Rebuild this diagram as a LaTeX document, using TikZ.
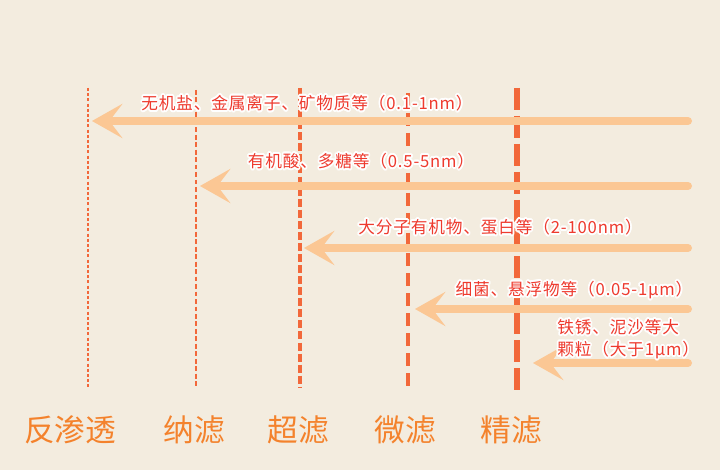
\documentclass[tikz,border=0pt]{standalone}
\usepackage{fontspec}
\usepackage{contour}
\setmainfont{Noto Sans CJK SC}
\newfontfamily\labelfont[LetterSpace=5]{Noto Sans CJK SC}
\usetikzlibrary{arrows.meta, positioning, calc}
\definecolor{paper}{HTML}{F3ECDF}
\definecolor{sizearrow}{HTML}{FBC794}
\definecolor{membrane}{HTML}{F2683A}
\definecolor{sizetext}{HTML}{EE3A2E}
\definecolor{nametext}{HTML}{F4822C}
\contourlength{1.3pt}

\begin{document}
\begin{tikzpicture}
  [x=0.75pt, y=-0.75pt,
  sizeflow/.style={draw=sizearrow, line width=6pt, line cap=round,
    -{Stealth[length=23pt, width=26pt, inset=10pt, line width=0pt]}},
  sizelabel/.style={text=sizetext, inner sep=0pt,
    font=\labelfont\fontsize{12.5}{16.5}\selectfont},
  filtername/.style={text=nametext, inner sep=0pt, font=\fontsize{23}{28}\selectfont},
  roline/.style={draw=membrane, line width=1.1pt, dash pattern=on 2.3pt off 1.6pt},
  nfline/.style={draw=membrane, line width=1.5pt, dash pattern=on 3.6pt off 2pt},
  ufline/.style={draw=membrane, line width=2.3pt, dash pattern=on 6pt off 2.3pt},
  mfline/.style={draw=membrane, line width=3pt, dash pattern=on 9.8pt off 5.2pt},
  pfline/.style={draw=membrane, line width=4.5pt, dash pattern=on 16.5pt off 4.5pt}]

  % paper
  \fill[paper] (0,0) rectangle (720,470);
  \useasboundingbox (0,0) rectangle (720,470);

  % membrane limits
  \coordinate (ro-top) at (88,88);   \coordinate (ro-bot) at (88,388);
  \coordinate (nf-top) at (196,90);  \coordinate (nf-bot) at (196,388);
  \coordinate (uf-top) at (300,88);  \coordinate (uf-bot) at (300,388);
  \coordinate (mf-top) at (408,93);  \coordinate (mf-bot) at (408,392);
  \coordinate (pf-top) at (517,88);  \coordinate (pf-bot) at (517,392);
  \draw[roline] (ro-top) -- (ro-bot);
  \draw[nfline] (nf-top) -- (nf-bot);
  \draw[ufline] (uf-top) -- (uf-bot);
  \draw[mfline] (mf-top) -- (mf-bot);
  \draw[pfline] (pf-top) -- (pf-bot);

  % particle sizes
  \coordinate (ion-in)  at (688,121); \coordinate (ion-out)  at (92,121);
  \coordinate (acid-in) at (688,186); \coordinate (acid-out) at (200,186);
  \coordinate (prot-in) at (688,248); \coordinate (prot-out) at (304,248);
  \coordinate (bact-in) at (688,309); \coordinate (bact-out) at (415,309);
  \coordinate (rust-in) at (688,363); \coordinate (rust-out) at (533,363);
  \draw[sizeflow] (ion-in) -- (ion-out);
  \draw[sizeflow] (acid-in) -- (acid-out);
  \draw[sizeflow] (prot-in) -- (prot-out);
  \draw[sizeflow] (bact-in) -- (bact-out);
  \draw[sizeflow] (rust-in) -- (rust-out);

  \node[sizelabel] (ion) at (307,104) {\contour{white}{无机盐、金属离子、矿物质等（0.1-1nm）}};
  \node[sizelabel] (acid) at (361,162) {\contour{white}{有机酸、多糖等（0.5-5nm）}};
  \node[sizelabel] (prot) at (500,228) {\contour{white}{大分子有机物、蛋白等（2-100nm）}};
  \node[sizelabel] (bact) at (574,291) {\contour{white}{细菌、悬浮物等（0.05-1μm）}};
  \node[sizelabel, align=left, anchor=west] (rust) at (557,340)
    {\contour{white}{铁锈、泥沙等大}\\\contour{white}{颗粒（大于1μm）}};

  % filter names
  \node[filtername] (ro) at (70,430) {反渗透};
  \node[filtername] (nf) at (194,430) {纳滤};
  \node[filtername] (uf) at (298,430) {超滤};
  \node[filtername] (mf) at (405,430) {微滤};
  \node[filtername] (pf) at (511,430) {精滤};
\end{tikzpicture}
\end{document}
